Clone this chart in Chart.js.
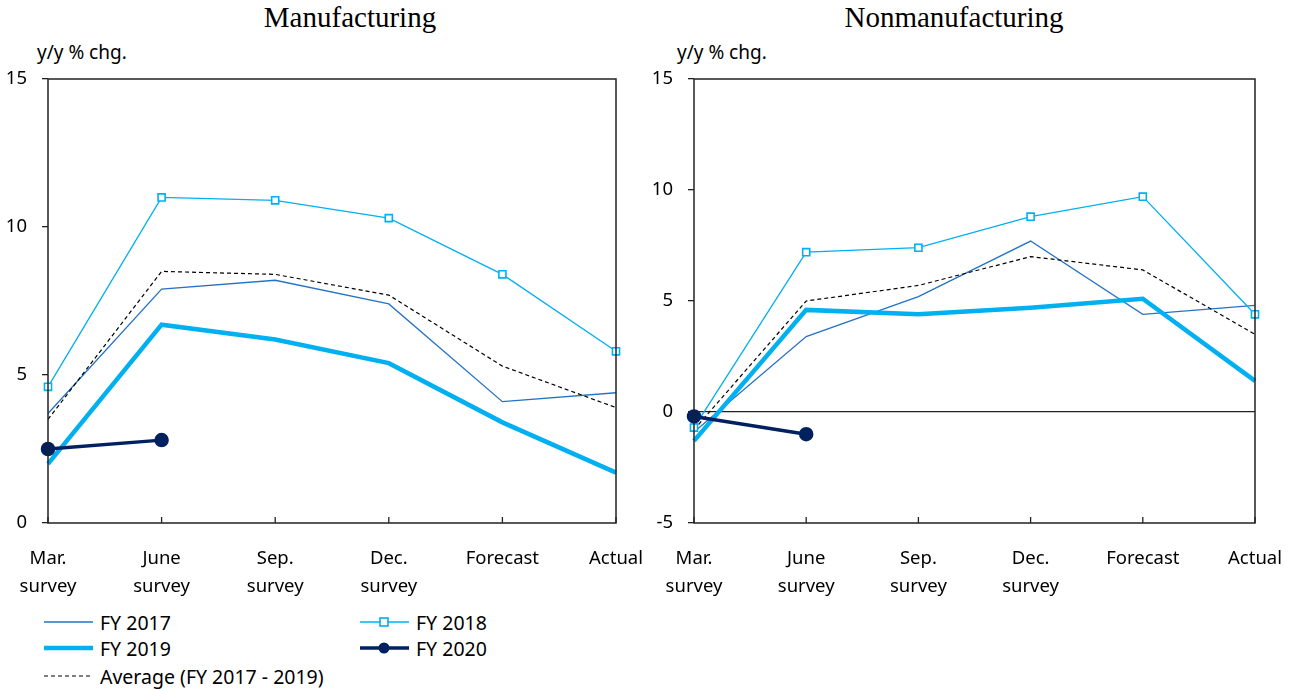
<!DOCTYPE html>
<html lang="en">
<head>
<meta charset="UTF-8" />
<title>Capex plans</title>
<script src="https://cdn.jsdelivr.net/npm/chart.js"></script>
<style>
  body { margin: 0; background: #fff; width: 1296px; height: 689px; position: relative; overflow: hidden; font-family: "Noto Sans", sans-serif; }
  canvas { position: absolute; top: 0; }
  .title { position: absolute; top: 3px; line-height: 1; font-family: "Liberation Serif", "Times New Roman", serif; font-size: 29px; color: #000; transform: translateX(-50%); white-space: nowrap; }
  .unit { position: absolute; top: 39px; font-size: 19px; color: #000; white-space: nowrap; }
  .legend { position: absolute; font-size: 19.5px; color: #000; display: flex; align-items: center; height: 26px; white-space: nowrap; }
  .legend svg { margin-right: 7px; }
</style>
</head>
<body>
<div class="title" style="left:350px">Manufacturing</div>
<div class="title" style="left:954px">Nonmanufacturing</div>
<div class="unit" style="left:37px">y/y % chg.</div>
<div class="unit" style="left:677px">y/y % chg.</div>
<canvas id="mfg" width="648" height="600" style="left:0;width:648px;height:600px"></canvas>
<canvas id="nonmfg" width="648" height="600" style="left:648px;width:648px;height:600px"></canvas>
<div id="legend"></div>
<script>
const categories = [["Mar.", "survey"], ["June", "survey"], ["Sep.", "survey"], ["Dec.", "survey"], "Forecast", "Actual"];

// Manufacturing
const mfg2017 = [3.7, 7.9, 8.2, 7.4, 4.1, 4.4];
const mfg2018 = [4.6, 11.0, 10.9, 10.3, 8.4, 5.8];
const mfg2019 = [2.0, 6.7, 6.2, 5.4, 3.4, 1.7];
const mfg2020 = [2.5, 2.8, null, null, null, null];
const mfgAvg = [3.5, 8.5, 8.4, 7.7, 5.3, 3.9];

// Nonmanufacturing
const non2017 = [-0.9, 3.4, 5.2, 7.7, 4.4, 4.8];
const non2018 = [-0.7, 7.2, 7.4, 8.8, 9.7, 4.4];
const non2019 = [-1.3, 4.6, 4.4, 4.7, 5.1, 1.4];
const non2020 = [-0.2, -1.0, null, null, null, null];
const nonAvg = [-0.8, 5.0, 5.7, 7.0, 6.4, 3.5];

const mfgTicks = { min: 0, max: 15, step: 5 };
const nonTicks = { min: -5, max: 15, step: 5 };

const seriesNames = ["FY 2017", "FY 2018", "FY 2019", "FY 2020", "Average (FY 2017 - 2019)"];

const styles = [
  { borderColor: "#2573c6", borderWidth: 1.3, pointRadius: 0, order: 4 },
  { borderColor: "#00b0f0", borderWidth: 1.3, pointStyle: "rect", pointRadius: 5, pointBackgroundColor: "#fff", pointBorderColor: "#00b0f0", pointBorderWidth: 1.6, order: 1 },
  { borderColor: "#00b0f0", borderWidth: 4.5, pointRadius: 0, order: 3 },
  { borderColor: "#002060", borderWidth: 3.5, pointStyle: "circle", pointRadius: 5.5, pointBackgroundColor: "#002060", pointBorderColor: "#002060", order: 0 },
  { borderColor: "#000", borderWidth: 1.2, borderDash: [4, 3], pointRadius: 0, order: 2 }
];

// box round the plot area, plus short inward tick marks on the x axis
const frame = {
  id: "frame",
  afterDraw(chart) {
    const a = chart.chartArea, ctx = chart.ctx, x = chart.scales.x;
    ctx.save();
    ctx.strokeStyle = "#222";
    ctx.lineWidth = 1.5;
    ctx.strokeRect(a.left, a.top, a.right - a.left, a.bottom - a.top);
    ctx.lineWidth = 1.3;
    ctx.beginPath();
    x.ticks.forEach((t, i) => {
      const px = x.getPixelForTick(i);
      ctx.moveTo(px, a.bottom);
      ctx.lineTo(px, a.bottom - 6);
    });
    ctx.stroke();
    ctx.restore();
  }
};

function makeChart(id, values, ticks, yWidth, padRight) {
  const datasets = values.map((v, i) => Object.assign({
    label: seriesNames[i],
    data: v,
    fill: false,
    tension: 0,
    spanGaps: false,
    pointHoverRadius: 0
  }, styles[i]));
  return new Chart(document.getElementById(id), {
    type: "line",
    data: { labels: categories, datasets: datasets },
    options: {
      responsive: false,
      animation: false,
      events: [],
      layout: { padding: { top: 79, right: padRight, left: 0, bottom: 0 } },
      plugins: { legend: { display: false }, tooltip: { enabled: false } },
      scales: {
        x: {
          offset: false,
          afterFit: s => { s.height = 77; },
          // hidden tick marks only push the labels down; the visible ones point inward (plugin)
          grid: { drawOnChartArea: false, drawTicks: true, tickLength: 20, tickColor: "rgba(0,0,0,0)" },
          border: { display: false },
          ticks: { color: "#000", font: { family: "Noto Sans", size: 18.5, lineHeight: 1.5 }, padding: 2, maxRotation: 0, autoSkip: false }
        },
        y: {
          min: ticks.min, max: ticks.max,
          afterFit: s => { s.width = yWidth; },
          grid: {
            drawOnChartArea: true,
            color: c => c.tick && c.tick.value === 0 && ticks.min < 0 ? "#222" : "rgba(0,0,0,0)",
            lineWidth: 1.3,
            tickLength: 6, tickColor: "#222", tickWidth: 1.3
          },
          border: { display: false },
          ticks: { stepSize: ticks.step, color: "#000", font: { family: "Noto Sans", size: 18.5 }, padding: 15 }
        }
      }
    },
    plugins: [frame]
  });
}

makeChart("mfg", [mfg2017, mfg2018, mfg2019, mfg2020, mfgAvg], mfgTicks, 48, 32);
makeChart("nonmfg", [non2017, non2018, non2019, non2020, nonAvg], nonTicks, 46, 41);

// legend in two columns
const legendPos = [[44, 609], [360, 609], [44, 635], [360, 635], [44, 663]];
const legendBox = document.getElementById("legend");
seriesNames.forEach((name, i) => {
  const st = styles[i];
  const div = document.createElement("div");
  div.className = "legend";
  div.style.left = legendPos[i][0] + "px";
  div.style.top = legendPos[i][1] + "px";
  let marker = "";
  if (st.pointStyle === "rect") marker = '<rect x="20" y="9" width="8" height="8" fill="#fff" stroke="' + st.borderColor + '" stroke-width="1.6"/>';
  if (st.pointStyle === "circle") marker = '<circle cx="24" cy="13" r="5.5" fill="' + st.borderColor + '"/>';
  const dash = st.borderDash ? ' stroke-dasharray="' + st.borderDash.join(",") + '"' : "";
  div.innerHTML = '<svg width="49" height="26"><line x1="0" y1="13" x2="49" y2="13" stroke="' + st.borderColor + '" stroke-width="' + st.borderWidth + '"' + dash + '/>' + marker + '</svg>' + name;
  legendBox.appendChild(div);
});
</script>
</body>
</html>
